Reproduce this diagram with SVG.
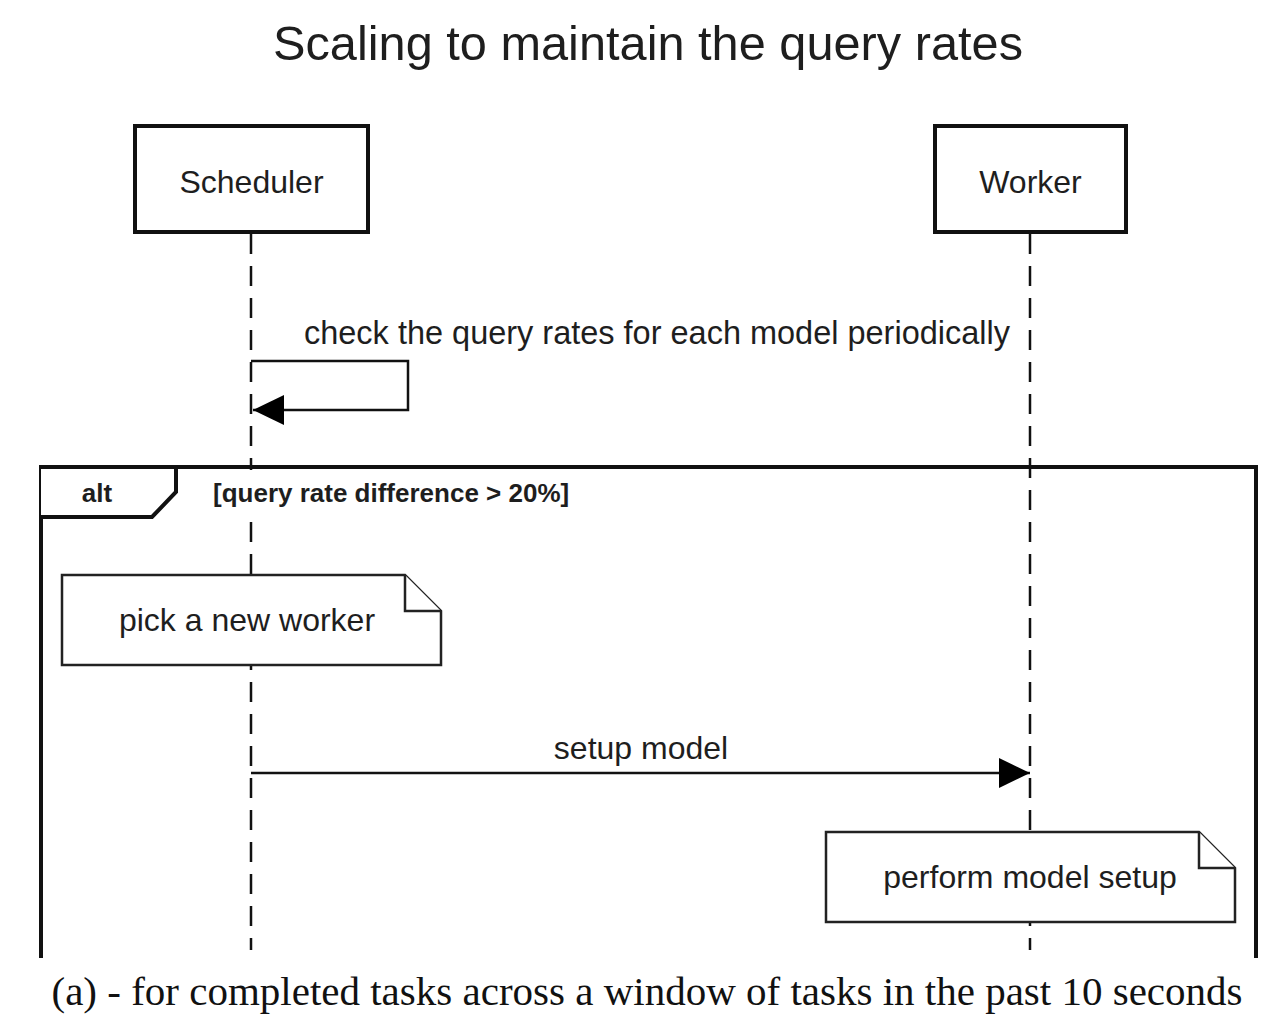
<svg xmlns="http://www.w3.org/2000/svg" width="1288" height="1022" viewBox="0 0 1288 1022">
<style>
.t{font-family:"Liberation Sans",Arial,sans-serif;fill:#1e1e1e}
.life{stroke:#111;stroke-width:2.5;stroke-dasharray:20 12;fill:none}
.box{fill:#fff;stroke:#111;stroke-width:4}
.note{fill:#fff;stroke:#222;stroke-width:2.5}
.msg{stroke:#111;stroke-width:2.5;fill:none}
</style>
<defs>
<marker id="ah" markerWidth="32" markerHeight="30" refX="31" refY="15" orient="auto" markerUnits="userSpaceOnUse">
<path d="M0,0 L31,15 L0,30 Z" fill="#000"/>
</marker>
</defs>
<rect width="1288" height="1022" fill="#fff"/>
<text class="t" x="648" y="60" font-size="48.5" text-anchor="middle" textLength="750" lengthAdjust="spacingAndGlyphs">Scaling to maintain the query rates</text>
<g id="lifelines">
<line class="life" x1="251" y1="234" x2="251" y2="950"/>
<line class="life" x1="1030" y1="234" x2="1030" y2="950"/>
</g>
<g id="scheduler">
<rect class="box" x="135" y="126" width="233" height="106"/>
<text class="t" x="251.5" y="193" font-size="32" text-anchor="middle">Scheduler</text>
</g>
<g id="worker">
<rect class="box" x="935" y="126" width="191" height="106"/>
<text class="t" x="1030.5" y="193" font-size="32" text-anchor="middle">Worker</text>
</g>
<g id="alt-frame">
<path d="M41,958 V467 H1256 V958" fill="none" stroke="#111" stroke-width="4"/>
<path d="M41,467 H176 V492 L152,517 H41" fill="#fff" stroke="#111" stroke-width="4"/>
<rect x="205" y="470" width="372" height="43" fill="#fff"/>
<text class="t" x="97" y="502" font-size="26" font-weight="bold" text-anchor="middle">alt</text>
<text class="t" x="213" y="502" font-size="26" font-weight="bold">[query rate difference &gt; 20%]</text>
</g>
<g id="connectors">
<path class="msg" d="M251,361 H408 V410 H253" marker-end="url(#ah)"/>
<text class="t" x="304" y="344" font-size="32.5" textLength="706" lengthAdjust="spacingAndGlyphs">check the query rates for each model periodically</text>
<line class="msg" x1="251" y1="773" x2="1030" y2="773" marker-end="url(#ah)"/>
<text class="t" x="641" y="759" font-size="32" text-anchor="middle">setup model</text>
</g>
<g id="note-pick">
<path class="note" d="M62,575 H405 L441,611 V665 H62 Z"/>
<path class="note" d="M405,575 V611 H441" fill="none"/>
<text class="t" x="247" y="631" font-size="32" text-anchor="middle">pick a new worker</text>
</g>
<g id="note-setup">
<path class="note" d="M826,832 H1199 L1235,868 V922 H826 Z"/>
<path class="note" d="M1199,832 V868 H1235" fill="none"/>
<text class="t" x="1030" y="888" font-size="32" text-anchor="middle">perform model setup</text>
</g>
<rect x="0" y="960" width="1288" height="62" fill="#fff"/>
<text x="647" y="1005" font-family="'Liberation Serif','Times New Roman',serif" font-size="41" fill="#111" text-anchor="middle">(a) - for completed tasks across a window of tasks in the past 10 seconds</text>
</svg>
